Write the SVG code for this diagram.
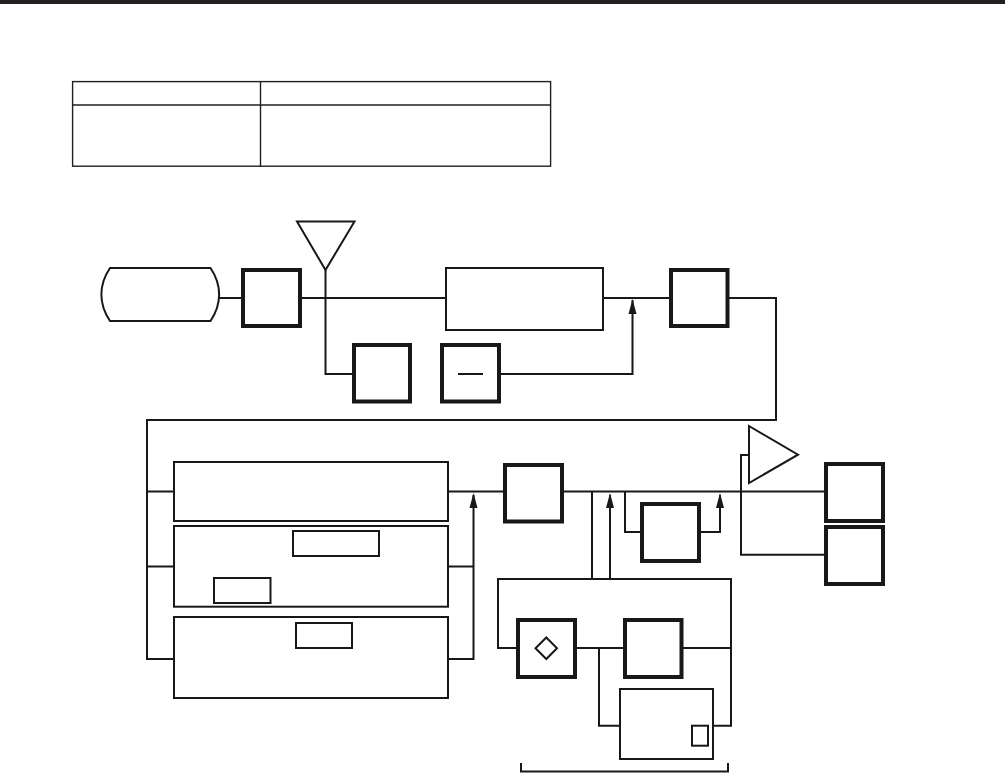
<svg xmlns="http://www.w3.org/2000/svg" width="1005" height="773" viewBox="0 0 1005 773">
<style>
.l{fill:none;stroke:#1a1718;stroke-width:2}
.t{fill:#fff;stroke:#1a1718;stroke-width:2}
.b{fill:#fff;stroke:#1a1718;stroke-width:4}
.a{fill:#1a1718;stroke:none}
</style>
<defs><path id="ah" class="a" d="M0 0L4 15H-4Z"/></defs>
<rect width="1005" height="773" fill="#fff"/>
<rect id="topbar" x="0" y="0" width="1005" height="4" fill="#231f20"/>
<g id="table" fill="none" stroke="#231f20" stroke-width="1.4">
<rect x="72.6" y="81.6" width="478" height="84.6"/>
<path d="M72.6 105H550.6M260.5 81.6V166.2"/>
</g>
<g id="connectors">
<path class="l" d="M219 298H243M300 298H446M325.5 270V374H354"/>
<path class="l" d="M499 374H632.5V300"/>
<path class="l" d="M603 298H671M728 298H776V420H147V659H174M147 491.5H174M147 566.5H174"/>
<path class="l" d="M448 491.5H505M448 566.5H473.5M448 659H473.5V495"/>
<path class="l" d="M562 491.5H826"/>
<path class="l" d="M592 491.5V579M610 579V495M625 491.5V532H642M699 532H720V495"/>
<path class="l" d="M749 455H741V554.7H826"/>
<path class="l" d="M610 579H498V648H518M575 648H625M682 648H731M592 579H731V725.7H713M599 648V725.7H620"/>
<path class="l" d="M521 763V771.500H728V763"/>
<use href="#ah" x="632.5" y="299"/>
<use href="#ah" x="473.5" y="493"/>
<use href="#ah" x="610" y="493"/>
<use href="#ah" x="720" y="493"/>
</g>
<g id="capsule"><path class="t" d="M110 268H210.5C222 285 222 304 210.5 321H110C98.500 304 98.500 285 110 268Z"/></g>
<g id="antenna"><path class="t" d="M297 221.500H354.500L325.500 270Z"/></g>
<g id="box-a"><rect class="b" x="243" y="270" width="57" height="56"/></g>
<g id="box-b"><rect class="b" x="354" y="345" width="56" height="56.500"/></g>
<g id="box-c"><rect class="b" x="442" y="345" width="57" height="56.500"/><path class="l" d="M458 374H483"/></g>
<g id="box-filter"><rect class="t" x="446" y="268" width="157" height="62"/></g>
<g id="box-d"><rect class="b" x="671" y="270" width="56.500" height="56"/></g>
<g id="panel-1"><rect class="t" x="174" y="462" width="274" height="59"/></g>
<g id="panel-2"><rect class="t" x="174" y="526" width="274" height="80.700"/><rect class="t" x="293" y="531" width="86" height="25"/><rect class="t" x="214" y="578" width="56.500" height="25"/></g>
<g id="panel-3"><rect class="t" x="174" y="617" width="274" height="81"/><rect class="t" x="296" y="623" width="56" height="25"/></g>
<g id="box-e"><rect class="b" x="505" y="465" width="57" height="56.500"/></g>
<g id="box-f"><rect class="b" x="642" y="504" width="57" height="57"/></g>
<g id="amp"><path class="t" d="M749 426L798 454.700L749 483Z"/></g>
<g id="box-g"><rect class="b" x="826" y="464" width="57" height="57"/></g>
<g id="box-h"><rect class="b" x="826" y="527" width="57" height="57"/></g>
<g id="box-i"><rect class="b" x="518" y="620" width="57" height="57"/><path class="t" d="M546.300 637.500L557 648.300L546.300 659L535.500 648.300Z"/></g>
<g id="box-j"><rect class="b" x="625" y="620" width="56.500" height="57"/></g>
<g id="box-k"><rect class="t" x="620" y="689" width="93" height="70"/><rect class="t" x="692" y="725.700" width="16" height="20"/></g>
</svg>
